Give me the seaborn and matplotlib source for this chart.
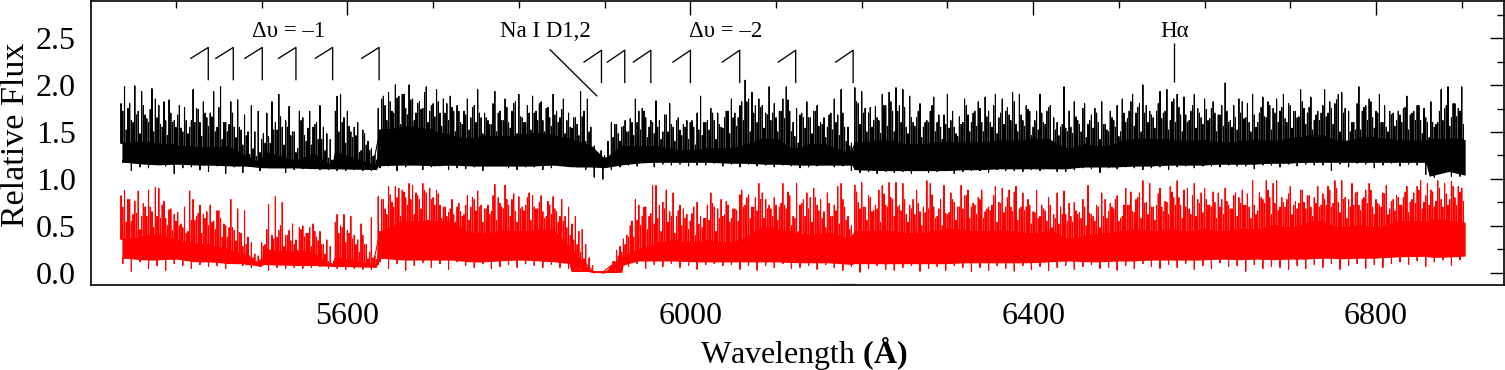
import numpy as np
import matplotlib
matplotlib.use("Agg")
import matplotlib.pyplot as plt
import seaborn as sns
from matplotlib.ticker import MultipleLocator

sns.set_theme(style="white")
plt.rcParams['font.family'] = ['Liberation Serif', 'DejaVu Serif']
plt.rcParams['mathtext.fontset'] = 'custom'
plt.rcParams['mathtext.rm'] = 'Liberation Serif'
plt.rcParams['mathtext.bf'] = 'Liberation Serif:bold'

# tall spikes, one reading per 4 A from 5336 A (one row per 100 A)
black_peak = [1.80,
1.98,1.75,1.62,1.99,1.72,1.93,1.68,1.60,1.96,1.85,1.78,1.55,1.62,1.84,1.60,1.55,1.78,1.50,1.62,1.55,1.95,1.75,1.60,1.82,1.65,
1.70,1.93,1.55,1.98,1.60,1.50,1.82,1.55,1.84,1.52,1.68,1.50,1.78,1.50,1.72,1.42,1.38,1.45,1.82,1.60,1.90,1.55,1.62,1.77,1.50,
1.28,1.72,1.65,1.40,1.72,1.55,1.60,1.78,1.55,1.48,1.42,1.20,1.88,1.90,1.65,1.72,1.50,1.55,1.60,1.30,1.48,1.40,1.32,1.25,1.75,
1.85,1.78,1.92,1.72,2.00,1.88,1.90,1.75,2.00,1.85,1.70,1.82,1.75,1.98,1.72,1.80,1.95,1.70,1.85,1.80,1.88,1.72,1.78,1.60,1.72,
1.85,1.65,1.78,1.95,1.65,1.70,1.62,1.58,1.93,1.70,1.62,1.85,1.60,1.72,1.82,1.90,1.65,1.60,1.70,1.88,1.72,1.80,1.62,1.75,1.65,
1.90,1.72,1.65,1.85,1.62,1.55,1.65,1.58,1.93,1.72,1.85,1.55,1.35,1.28,1.30,1.25,1.40,1.60,1.58,1.48,1.55,1.62,1.50,1.60,1.85,
1.72,1.75,1.65,1.55,1.60,1.83,1.62,1.50,1.68,1.80,1.55,1.62,1.52,1.58,1.62,1.60,1.55,1.70,1.88,1.60,1.62,1.75,1.62,1.70,1.55,
1.65,1.72,1.85,1.70,1.65,1.82,2.05,1.85,1.92,1.78,1.85,1.78,1.70,1.98,1.70,1.65,1.72,1.85,1.98,1.72,1.60,1.75,1.68,1.65,1.82,
1.65,1.72,1.78,1.60,1.65,1.55,1.70,1.85,1.68,1.95,1.55,1.55,1.38,1.97,1.80,1.93,1.75,1.70,1.55,1.77,1.62,1.90,1.78,1.92,1.72,
1.97,1.78,1.95,1.55,1.88,1.60,1.65,1.80,1.55,1.62,1.72,1.87,1.60,1.55,1.68,1.90,1.62,1.55,1.45,1.58,1.85,1.68,1.60,1.72,1.82,
1.60,1.87,1.72,1.55,1.90,1.65,1.85,1.72,1.68,1.92,1.58,1.90,1.62,1.78,1.72,1.55,1.72,1.90,1.60,1.72,1.78,1.65,1.60,1.55,1.98,
1.50,1.55,1.82,1.62,1.50,1.80,1.58,1.68,1.75,1.60,1.82,1.58,1.50,1.65,1.55,1.45,1.85,1.60,1.72,1.90,1.70,1.80,2.00,1.78,1.72,
1.65,1.72,1.93,1.70,1.95,1.62,1.85,1.90,1.68,1.87,1.60,1.72,1.90,1.75,1.65,1.85,1.62,1.75,1.70,1.68,1.78,2.02,1.60,1.55,1.65,
1.85,1.82,1.65,1.60,1.90,1.55,1.70,1.87,1.65,1.78,1.75,1.85,1.72,1.90,1.60,1.78,1.72,1.65,1.95,1.75,1.70,1.87,1.62,1.72,1.70,
1.95,1.70,1.75,1.80,1.90,1.92,1.75,1.72,1.60,1.52,1.98,1.72,1.78,1.85,1.65,1.72,1.90,1.60,1.55,1.72,1.70,1.62,1.68,1.75,1.88,
1.68,1.72,1.78,1.62,1.75,1.60,1.82,1.55,1.60,1.95,1.75,1.98,1.65,1.80,1.75,1.98]
red_peak = [.82,
.88,.78,.55,.76,.87,.60,.70,.88,.65,.91,.90,.72,.58,.67,.45,.55,.50,.48,.42,.87,.78,.60,.72,.62,.65,
.72,.55,.66,.58,.52,.38,.78,.45,.68,.42,.66,.38,.32,.20,.18,.32,.30,.73,.40,.81,.45,.75,.40,.45,.52,
.35,.48,.50,.42,.48,.52,.38,.44,.30,.35,.28,.12,.62,.50,.62,.45,.60,.40,.35,.52,.30,.15,.59,.18,.81,
.78,.68,.92,.75,.92,.90,.88,.80,.95,.93,.85,.78,.95,.85,.90,.80,.88,.72,.70,.60,.68,.62,.70,.65,.62,
.82,.70,.78,.87,.72,.68,.72,.65,.94,.80,.70,.93,.72,.78,.65,.81,.70,.72,.85,.82,.68,.75,.65,.60,.72,
.81,.65,.60,.55,.48,.40,.35,.30,.22,.15,.06,.03,.01,.01,.01,.01,.01,.03,.12,.18,.22,.30,.38,.55,.78,
.72,.60,.70,.60,.93,.93,.72,.75,.88,.65,.85,.60,.72,.68,.62,.55,.70,.75,.60,.58,.72,.85,.70,.68,.78,
.62,.72,.58,.68,.55,.88,.72,.83,.70,.80,.95,.85,.78,.72,.60,.72,.70,.95,.68,.82,.60,.95,.72,.78,.85,
.80,.90,.72,.78,.65,.85,.60,.72,.92,.95,.70,.60,.50,.93,.75,.96,.70,.82,.65,.72,.88,.93,.72,.96,.78,
.96,.72,.95,.62,.72,.78,.88,.65,.70,.98,.95,.70,.60,.78,.93,.62,.85,.75,.70,.93,.82,.88,.70,.72,.80,
.88,.65,.70,.72,.92,.75,.90,.70,.88,.65,.92,.68,.85,.70,.72,.65,.88,.60,.68,.55,.72,.62,.85,.70,.87,
.55,.60,.75,.62,.58,.70,.93,.62,.55,.70,.85,.78,.65,.70,.78,.55,.60,.90,.72,.65,.78,.85,.98,.75,.95,
.70,.72,.90,.65,.75,.92,.80,.98,.72,.88,.90,.62,.95,.78,.85,.90,.72,.70,.75,.85,.78,.90,.72,.68,.85,
.80,.88,.72,.70,.98,.62,.85,.78,.98,.80,.95,.98,.70,.75,.78,.92,.72,.68,.88,.75,.82,.70,.80,.92,.72,
.78,.92,.70,.98,.75,.98,.80,.78,.95,.85,.72,.78,.88,.95,.70,.78,.72,.85,.93,.68,.78,.82,.72,.80,.92,
.75,.85,.92,.98,.75,.95,.88,.70,.98,.78,.95,.72,.97,.80,.92,.90]

# shorter spikes, one reading per 8 A from 5338 A (one row per 200 A)
black_mid = [
1.72,1.80,1.68,1.78,1.74,1.65,1.82,1.70,1.68,1.76,1.62,1.74,1.70,1.66,1.76,1.60,1.70,1.55,1.46,1.32,1.28,1.70,1.52,1.66,1.55,
1.50,1.62,1.54,1.58,1.42,1.22,1.72,1.60,1.56,1.46,1.52,1.30,1.20,1.88,1.82,1.86,1.90,1.84,1.80,1.92,1.78,1.82,1.70,1.76,1.72,
1.68,1.76,1.70,1.65,1.80,1.72,1.76,1.80,1.66,1.78,1.70,1.82,1.76,1.68,1.74,1.70,1.65,1.66,1.50,1.25,1.20,1.22,1.58,1.56,1.64,
1.60,1.72,1.62,1.55,1.68,1.58,1.65,1.55,1.62,1.52,1.60,1.70,1.58,1.72,1.65,1.78,1.82,1.70,1.76,1.68,1.80,1.72,1.84,1.45,1.70,
1.65,1.72,1.58,1.68,1.60,1.70,1.35,1.82,1.70,1.76,1.65,1.78,1.82,1.72,1.76,1.65,1.72,1.60,1.78,1.68,1.58,1.72,1.66,1.78,1.70,
1.75,1.66,1.78,1.70,1.76,1.82,1.68,1.74,1.62,1.70,1.76,1.52,1.58,1.72,1.66,1.75,1.62,1.70,1.58,1.72,1.78,1.70,1.82,1.76,1.70,
1.68,1.80,1.72,1.82,1.76,1.68,1.78,1.70,1.74,1.82,1.68,1.72,1.78,1.70,1.80,1.68,1.76,1.82,1.70,1.76,1.80,1.72,1.82,1.76,1.68,
1.78,1.82,1.84,1.70,1.50,1.80,1.76,1.82,1.70,1.78,1.68,1.72,1.76,1.70,1.78,1.65,1.60,1.72,1.78,1.80,1.72]
red_mid = [
.70,.78,.63,.74,.70,.60,.76,.68,.64,.70,.56,.63,.58,.54,.66,.50,.48,.43,.30,.16,.14,.46,.36,.50,.40,
.30,.46,.42,.44,.30,.12,.54,.48,.42,.30,.40,.22,.14,.78,.83,.80,.86,.78,.82,.88,.78,.84,.70,.78,.74,
.72,.80,.70,.68,.82,.74,.78,.84,.68,.80,.70,.82,.76,.68,.78,.70,.60,.46,.16,.01,.01,.06,.24,.36,.50,
.56,.70,.63,.58,.68,.60,.66,.58,.63,.52,.58,.74,.58,.76,.68,.83,.80,.70,.78,.68,.80,.74,.86,.58,.74,
.68,.80,.58,.74,.66,.78,.46,.86,.70,.80,.68,.84,.80,.70,.78,.68,.74,.64,.83,.68,.63,.78,.70,.82,.74,
.78,.68,.82,.74,.80,.86,.70,.78,.64,.72,.80,.58,.62,.74,.66,.78,.63,.72,.60,.74,.82,.72,.86,.80,.74,
.70,.84,.76,.86,.80,.70,.82,.74,.78,.86,.70,.76,.82,.74,.84,.72,.80,.88,.74,.80,.84,.76,.88,.82,.74,
.84,.88,.90,.78,.70,.86,.80,.88,.74,.84,.76,.80,.86,.78,.88,.82,.86,.90,.84,.92,.86]

# lowest spikes, one reading per 8 A from 5342 A (one row per 200 A)
black_low = [
1.52,1.60,1.48,1.64,1.50,1.58,1.46,1.62,1.54,1.48,1.60,1.45,1.56,1.50,1.42,1.58,1.44,1.36,1.26,1.24,1.48,1.38,1.52,1.36,1.46,
1.32,1.46,1.36,1.42,1.30,1.20,1.50,1.38,1.44,1.28,1.36,1.24,1.18,1.62,1.70,1.58,1.68,1.62,1.74,1.60,1.66,1.56,1.62,1.50,1.58,
1.52,1.60,1.48,1.58,1.50,1.62,1.54,1.48,1.60,1.52,1.62,1.50,1.56,1.60,1.48,1.54,1.46,1.40,1.26,1.22,1.20,1.44,1.40,1.50,1.46,
1.52,1.44,1.48,1.42,1.50,1.40,1.46,1.42,1.36,1.46,1.52,1.42,1.54,1.48,1.56,1.62,1.50,1.60,1.54,1.62,1.50,1.64,1.50,1.38,1.54,
1.48,1.56,1.44,1.52,1.46,1.40,1.30,1.58,1.50,1.62,1.48,1.56,1.50,1.60,1.48,1.56,1.44,1.60,1.50,1.42,1.54,1.48,1.60,1.50,1.56,
1.50,1.60,1.48,1.58,1.62,1.50,1.56,1.46,1.52,1.58,1.40,1.46,1.54,1.48,1.58,1.44,1.54,1.42,1.52,1.62,1.50,1.64,1.56,1.50,1.60,
1.54,1.64,1.52,1.60,1.50,1.62,1.54,1.58,1.64,1.50,1.56,1.62,1.52,1.64,1.50,1.60,1.66,1.52,1.60,1.64,1.54,1.66,1.58,1.52,1.62,
1.66,1.58,1.50,1.40,1.60,1.52,1.62,1.54,1.60,1.50,1.56,1.60,1.52,1.62,1.48,1.44,1.58,1.62,1.56,1.66,1.58]
red_low = [
.54,.62,.46,.60,.48,.58,.50,.62,.52,.44,.56,.42,.50,.46,.38,.48,.34,.28,.18,.12,.28,.24,.38,.28,.34,
.24,.38,.28,.34,.20,.10,.42,.32,.36,.22,.30,.16,.12,.62,.70,.60,.72,.62,.68,.56,.72,.58,.64,.54,.60,
.56,.66,.54,.62,.56,.68,.60,.54,.66,.56,.68,.58,.62,.54,.60,.52,.44,.30,.08,.01,.02,.12,.28,.40,.38,
.50,.46,.52,.44,.54,.42,.50,.46,.40,.48,.56,.44,.60,.54,.66,.70,.58,.66,.58,.68,.56,.72,.50,.44,.60,
.54,.66,.48,.60,.52,.56,.40,.68,.56,.66,.54,.70,.60,.66,.54,.62,.50,.68,.58,.50,.64,.56,.68,.58,.62,
.58,.66,.54,.64,.70,.56,.66,.52,.58,.66,.48,.52,.62,.54,.64,.50,.60,.48,.58,.68,.58,.72,.64,.58,.62,
.56,.70,.62,.72,.58,.68,.60,.64,.72,.58,.62,.68,.60,.72,.58,.66,.74,.62,.66,.70,.62,.74,.68,.60,.70,
.72,.74,.64,.58,.72,.66,.74,.62,.70,.62,.66,.72,.64,.74,.68,.72,.76,.70,.78,.72,.76]

# downward spikes, one reading per 10 A from 5338 A
black_dip = [
1.20,1.09,1.13,1.12,1.18,1.14,1.06,1.12,1.13,1.10,
1.08,1.14,1.06,1.13,1.07,1.14,1.09,1.13,1.15,1.07,
1.10,1.11,1.11,1.10,1.10,1.09,1.09,1.10,1.09,1.09,
1.12,1.14,1.09,1.13,1.15,1.10,1.13,1.14,1.10,1.12,
1.11,1.13,1.09,1.14,1.14,1.12,1.10,1.13,1.13,1.10,
1.12,1.14,1.15,1.13,1.10,1.02,1.00,1.10,1.13,1.15,
1.14,1.18,1.13,1.16,1.15,1.16,1.14,1.15,1.15,1.17,
1.14,1.16,1.13,1.16,1.14,1.15,1.13,1.15,1.14,1.12,
1.13,1.14,1.15,1.13,1.14,1.09,1.07,1.08,1.06,1.08,
1.07,1.08,1.06,1.09,1.07,1.08,1.10,1.06,1.08,1.09,
1.09,1.07,1.10,1.09,1.09,1.08,1.10,1.09,1.11,1.08,
1.08,1.10,1.12,1.11,1.07,1.12,1.11,1.13,1.12,1.10,
1.12,1.13,1.10,1.13,1.14,1.12,1.14,1.14,1.13,1.15,
1.14,1.14,1.11,1.15,1.15,1.13,1.16,1.14,1.16,1.15,
1.15,1.09,1.16,1.13,1.17,1.16,1.12,1.15,1.17,1.14,
1.16,1.15,1.05,1.02,1.10,1.03,1.03]
red_dip = [
.10,.02,.12,.05,.08,.03,.10,.08,.05,.09,
.07,.08,.05,.10,.08,.06,.07,.03,.06,.05,
.06,.05,.06,.07,.05,.05,.04,.05,.04,.04,
.12,.05,.10,.03,.08,.11,.06,.10,.04,.12,
.08,.06,.10,.05,.07,.09,.06,.10,.08,.06,
.09,.06,.05,.07,.03,.00,.00,.02,.05,.07,
.10,.05,.09,.07,.10,.06,.08,.04,.09,.10,
.08,.09,.04,.08,.03,.08,.06,.10,.05,.06,
.08,.04,.09,.06,.03,.07,.01,.05,.08,.04,
.03,.06,.08,.02,.05,.07,.03,.08,.06,.02,
.06,.03,.08,.05,.02,.08,.04,.07,.03,.06,
.08,.04,.07,.09,.05,.06,.03,.08,.05,.10,
.07,.05,.09,.06,.10,.04,.08,.05,.11,.07,
.08,.02,.09,.05,.07,.06,.04,.08,.05,.09,
.06,.10,.04,.08,.10,.05,.09,.06,.10,.12,
.09,.13,.07,.12,.14,.08,.14]

# solid part of each trace at these wavelengths
body_wave = [5337,5360,5380,5400,5420, 5440,5460,5480,5499,5502, 5540,5560,5582,5585,5634,
5636,5660,5680,5700,5720, 5740,5760,5780,5800,5820, 5840,5860,5884,5900,5920,
5940,5960,5980,6000,6020, 6040,6060,6080,6100,6120, 6140,6160,6189,6191,6220,
6240,6260,6280,6300,6320, 6340,6360,6380,6400,6420, 6440,6460,6480,6500,6520,
6540,6560,6580,6600,6620, 6640,6660,6680,6700,6720, 6740,6760,6780,6800,6820,
6858,6862,6885,6904]
black_body = [1.38,1.40,1.38,1.36,1.34, 1.33,1.36,1.26,1.18,1.30, 1.20,1.28,1.14,1.30,1.15,
1.52,1.55,1.56,1.52,1.47, 1.43,1.47,1.45,1.47,1.50, 1.47,1.43,1.36,1.22,1.36,
1.34,1.36,1.32,1.30,1.34, 1.32,1.36,1.42,1.44,1.32, 1.38,1.36,1.28,1.38,1.42,
1.40,1.36,1.38,1.40,1.38, 1.38,1.42,1.40,1.44,1.42, 1.32,1.38,1.34,1.40,1.44,
1.42,1.42,1.40,1.42,1.38, 1.40,1.42,1.40,1.44,1.46, 1.46,1.40,1.44,1.44,1.42,
1.40,1.42,1.44,1.42]
black_floor = [1.18,1.16,1.15,1.16,1.15, 1.15,1.14,1.14,1.12,1.12, 1.12,1.11,1.11,1.11,1.10,
1.14,1.15,1.15,1.14,1.15, 1.14,1.14,1.14,1.14,1.14, 1.15,1.13,1.13,1.12,1.15,
1.17,1.18,1.18,1.18,1.18, 1.17,1.17,1.16,1.16,1.15, 1.15,1.15,1.15,1.10,1.09,
1.09,1.09,1.09,1.09,1.10, 1.10,1.11,1.11,1.11,1.11, 1.11,1.13,1.13,1.13,1.14,
1.14,1.15,1.15,1.15,1.16, 1.16,1.16,1.17,1.17,1.18, 1.18,1.18,1.18,1.18,1.18,
1.18,1.03,1.08,1.04]
red_body = [.36,.39,.42,.36,.32, .30,.26,.20,.09,.26, .22,.22,.09,.18,.09,
.44,.54,.56,.54,.56, .44,.42,.46,.44,.46, .46,.28,.02,.01,.18,
.26,.32,.36,.32,.36, .32,.36,.48,.48,.44, .40,.44,.36,.44,.46,
.44,.42,.44,.48,.46, .44,.46,.44,.42,.46, .36,.40,.42,.44,.48,
.44,.48,.44,.48,.44, .48,.46,.52,.48,.54, .54,.48,.52,.48,.54,
.54,.56,.56,.54]
red_floor = [.16,.14,.14,.15,.12, .12,.10,.10,.07,.09, .08,.08,.07,.07,.06,
.16,.14,.14,.14,.14, .12,.12,.13,.14,.13, .12,.10,.01,.00,.08,
.13,.13,.13,.12,.12, .12,.12,.12,.12,.11, .11,.11,.09,.10,.10,
.10,.10,.10,.10,.11, .11,.11,.11,.11,.12, .13,.12,.12,.13,.13,
.14,.14,.14,.14,.15, .14,.15,.14,.15,.15, .16,.15,.16,.16,.17,
.18,.17,.17,.18]

band_1 = [5437.7, 5466.9, 5500.7, 5540.0, 5582.8, 5637.0]
band_2 = [5896.4, 5923.6, 5954.0, 6000.2, 6057.7, 6123.0, 6190.0]

W, H = 1505, 370
fig = plt.figure(figsize=(W/100, H/100), dpi=100)
ax = fig.add_axes([91/W, 1-285/H, (1504-91)/W, (285-1)/H])

def spikes(xs, tips, level, pick, color):
    """Vertical spikes: each reading leaves the solid part and returns to it at the same wavelength."""
    xs = np.asarray(xs, float)
    kn = np.asarray(body_wave, float)
    lv = np.asarray(level)
    hi = np.clip(np.searchsorted(kn, xs), 0, len(kn) - 1)
    lo = np.clip(hi - 1, 0, len(kn) - 1)
    base = pick(lv[lo], lv[hi])
    path_x = np.ravel(np.column_stack([xs, xs, xs]))
    path_y = np.ravel(np.column_stack([base, tips, base]))
    sns.lineplot(x=path_x, y=path_y, sort=False, estimator=None,
                 color=color, lw=0.8, ax=ax, legend=False)

def trace(peak, mid, low, dip, body, floor, color):
    wp = 5336 + 4*np.arange(len(peak))
    wm = 5338 + 8*np.arange(len(mid))
    wl = 5342 + 8*np.arange(len(low))
    wd = 5338 + 10*np.arange(len(dip))
    ax.fill_between(body_wave, floor, body, color=color, lw=0)
    spikes(wp, peak, body, np.minimum, color)
    spikes(wm, mid, body, np.minimum, color)
    spikes(wl, low, body, np.minimum, color)
    spikes(wd, dip, floor, np.maximum, color)

trace(black_peak, black_mid, black_low, black_dip, black_body, black_floor, "black")
trace(red_peak, red_mid, red_low, red_dip, red_body, red_floor, "#ff0000")

ax.set_xlim(5300.9, 6949.3)
ax.set_ylim(-0.128, 2.894)
ax.xaxis.set_major_locator(MultipleLocator(400))
ax.xaxis.set_minor_locator(MultipleLocator(100))
ax.yaxis.set_major_locator(MultipleLocator(0.5))
ax.yaxis.set_minor_locator(MultipleLocator(0.25))
ax.tick_params(which="both", direction="in", top=True, right=True, width=1.0, color="black")
ax.tick_params(which="major", length=10)
ax.tick_params(which="minor", length=5)
ax.tick_params(axis="x", which="major", labelsize=23, pad=12, labelcolor="black")
ax.tick_params(axis="y", which="major", labelsize=23, pad=11, labelcolor="black")
for s in ax.spines.values():
    s.set_linewidth(1.2); s.set_color("black"); s.set_visible(True)

ax.set_xlabel(r"Wavelength $\mathbf{(Å)}$", fontsize=23, color="black")
ax.set_ylabel("Relative Flux", fontsize=24.5, color="black")
ax.xaxis.set_label_coords((804-91)/1413, -(353-285)/284, transform=ax.transAxes)
ax.yaxis.set_label_coords((16-91)/1413, (285-135)/284, transform=ax.transAxes)
ax.xaxis.label.set_verticalalignment("center")
ax.yaxis.label.set_verticalalignment("center")

kw = dict(color="black", lw=0.95, solid_capstyle="butt")
for x0 in band_1:
    ax.plot([x0-21, x0, x0], [2.28, 2.40, 2.05], **kw)
for x0 in band_2:
    ax.plot([x0-21, x0, x0], [2.24, 2.37, 2.02], **kw)
ax.plot([5836, 5891.4], [2.38, 1.88], **kw)
ax.plot([6564.2, 6564.2], [2.45, 2.03], **kw)
ax.plot([6174, 6192], [-0.12, -0.12], color="0.6", lw=1.0)

for x, s in [(5531.8, "Δυ = –1"), (5831, "Na I D1,2"), (6040.8, "Δυ = –2"), (6565, "Hα")]:
    ax.text(x, 2.57, s, fontsize=16.5, ha="center", va="center", color="black")

fig.savefig("out.png", dpi=100)
